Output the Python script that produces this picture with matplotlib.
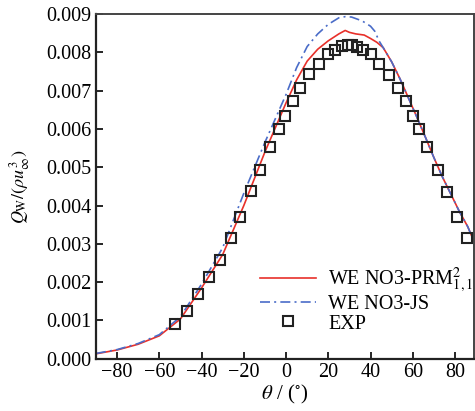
import numpy as np
import matplotlib
matplotlib.use("Agg")
import matplotlib.pyplot as plt

plt.rcParams["font.family"] = ["Liberation Serif", "DejaVu Serif"]
plt.rcParams["mathtext.fontset"] = "stix"

# PRM^2_{1,1} scheme (red solid)
prm_theta = [-90, -80, -70, -60, -50, -40, -30, -20, -10, 0, 5, 10, 15, 20, 25, 28,
             30, 33, 37, 40, 43, 46, 50, 54, 58, 62, 66, 70, 74, 78, 82, 86, 89]
prm_q = [0.00013, 0.00023, 0.00038, 0.00060, 0.00104, 0.00185, 0.00272, 0.00400,
         0.00540, 0.00668, 0.00728, 0.00777, 0.00808, 0.00830, 0.00848, 0.00857,
         0.00852, 0.00848, 0.00845, 0.00836, 0.00826, 0.00812, 0.00775, 0.00730,
         0.00680, 0.00630, 0.00578, 0.00525, 0.00475, 0.00430, 0.00385, 0.00345,
         0.00306]

# JS scheme (blue dash-dot)
js_theta = [-90, -80, -70, -60, -50, -40, -30, -20, -10, 0, 5, 10, 15, 20, 25, 28,
            31, 36, 40, 42, 44, 46, 50, 54, 58, 62, 66, 70, 74, 78, 82, 86, 89]
js_q = [0.00014, 0.00024, 0.00040, 0.00063, 0.00110, 0.00195, 0.00290, 0.00432,
        0.00565, 0.00690, 0.00760, 0.00815, 0.00848, 0.00873, 0.00890, 0.00893,
        0.00892, 0.00882, 0.00868, 0.00855, 0.00830, 0.00812, 0.00775, 0.00730,
        0.00680, 0.00630, 0.00578, 0.00525, 0.00475, 0.00430, 0.00385, 0.00345,
        0.00306]

# experiment
exp_theta = [-52.7, -47.0, -41.5, -36.5, -31.3, -26.3, -22.0, -16.8, -12.5, -7.4,
             -3.5, -0.3, 3.1, 6.4, 11.0, 15.4, 19.8, 23.1, 26.4, 29.5, 31.0, 33.5,
             36.3, 40.1, 44.2, 48.6, 53.0, 56.6, 59.9, 62.9, 66.7, 71.7, 76.1, 81.1,
             85.7]
exp_q = [0.00091, 0.00126, 0.00170, 0.00214, 0.00257, 0.00315, 0.00371, 0.00438,
         0.00493, 0.00553, 0.00600, 0.00635, 0.00673, 0.00707, 0.00743, 0.00770,
         0.00796, 0.00807, 0.00817, 0.00819, 0.00818, 0.00814, 0.00806, 0.00796,
         0.00770, 0.00742, 0.00707, 0.00672, 0.00634, 0.00600, 0.00553, 0.00493,
         0.00436, 0.00370, 0.00315]

fig = plt.figure(figsize=(4.75, 4.11), dpi=100)
ax = fig.add_axes([0.202, 0.127, 0.796, 0.839])

ax.plot(prm_theta, prm_q, color="#e8302a", lw=1.2,
        label=r"WE NO3-PRM$_{1,1}^{2}$")
ax.plot(js_theta, js_q, color="#4a6cc8", lw=1.2, ls=(0, (6, 2.5, 1.2, 2.5)),
        label="WE NO3-JS")
ax.plot(exp_theta, exp_q, ls="none", marker="s", ms=6.5, mfc="none", mec="#222222",
        mew=1.5, label="EXP")

ax.set_xlim(-90, 89)
ax.set_ylim(0, 0.009)
ax.set_xticks(np.arange(-80, 81, 20))
ax.set_yticks(np.arange(0, 0.0091, 0.001))
ax.yaxis.set_major_formatter(matplotlib.ticker.FormatStrFormatter("%.3f"))
ax.tick_params(direction="in", length=5, width=1.2, labelsize=14.5, pad=3)

for s in ["left", "bottom"]:
    ax.spines[s].set_linewidth(1.6)
    ax.spines[s].set_color("#222222")
for s in ["top", "right"]:
    ax.spines[s].set_linewidth(1.4)
    ax.spines[s].set_color("#444444")

ax.set_xlabel(r"$\theta$ / ($^{\circ}$)", fontsize=15, labelpad=1)
ax.set_ylabel(r"$Q_{\mathrm{W}}/(\rho u_{\infty}^{3})$", fontsize=13)
ax.yaxis.set_label_coords(-0.17, 0.5)

ax.legend(loc="lower right", bbox_to_anchor=(1.02, 0.05), frameon=False,
          fontsize=14.5, handlelength=2.8, handletextpad=0.6, labelspacing=0.0,
          borderaxespad=0)

fig.savefig("out.png", dpi=100)
